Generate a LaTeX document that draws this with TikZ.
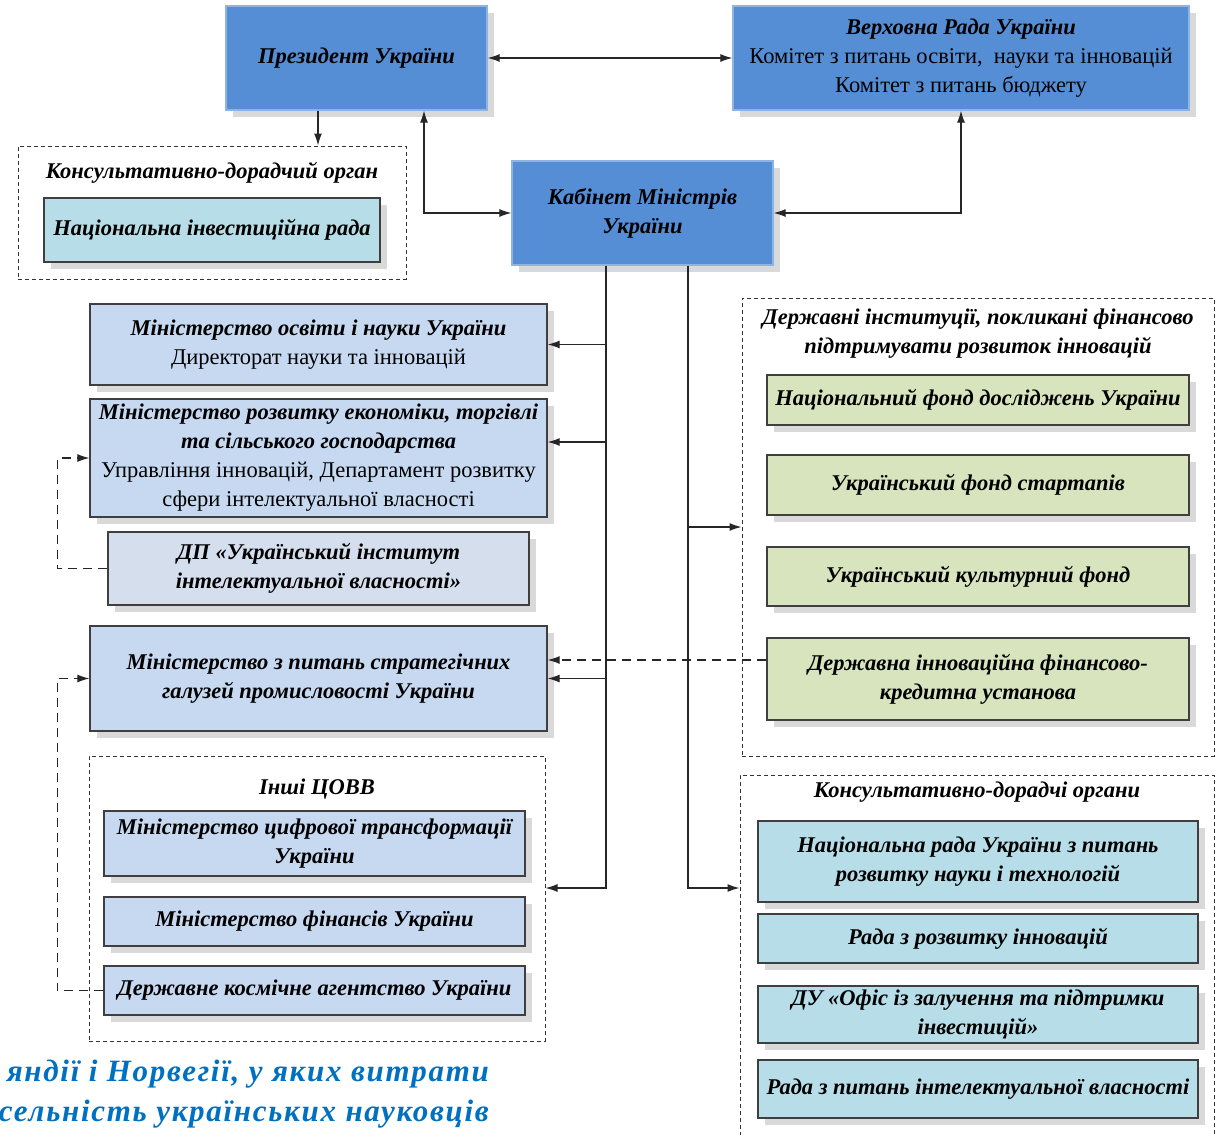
\documentclass[tikz,border=0pt]{standalone}
\usepackage{fontspec}
\setmainfont{Liberation Serif}
\newfontfamily\headfont[LetterSpace=5.5]{Liberation Serif}
\usetikzlibrary{arrows.meta,shadows,positioning}

\definecolor{topblue}{HTML}{558ED5}
\definecolor{topline}{HTML}{8EB4E3}
\definecolor{minblue}{HTML}{C6D9F1}
\definecolor{dpblue}{HTML}{D5DEEC}
\definecolor{cyanbox}{HTML}{B7DEE8}
\definecolor{greenbox}{HTML}{D7E4BD}
\definecolor{shade}{HTML}{D9D9D9}
\definecolor{linegray}{HTML}{3F3F3F}
\definecolor{headblue}{HTML}{0070C0}

\tikzset{
  box/.style={draw=linegray, line width=1.3pt, align=center, inner sep=2pt,
    font=\fontsize{22.5}{29}\selectfont\bfseries\itshape,
    drop shadow={shadow xshift=7pt, shadow yshift=-7pt, fill=shade, opacity=1}},
  topbox/.style={box, fill=topblue, draw=topline},
  minbox/.style={box, fill=minblue},
  dashframe/.style={draw=black!80, dash pattern=on 4pt off 3pt, line width=1pt},
  grouptitle/.style={font=\fontsize{22.5}{29}\selectfont\bfseries\itshape, align=center},
  link/.style={line width=1.2pt, draw=black!85},
  dlink/.style={link, dash pattern=on 9pt off 6pt},
}
\newcommand{\plain}{\mdseries\upshape}

\begin{document}
\begin{tikzpicture}[x=1pt, y=-1pt, >={Latex[length=12pt,width=8pt]}]
\useasboundingbox (0,0) rectangle (1216,1135);

% top level
\node[topbox, minimum width=261pt, minimum height=104pt] (pres) at (356.5,58) {Президент України};
\node[topbox, minimum width=456pt, minimum height=104pt] (vr) at (961,58) {Верховна Рада України\\\plain Комітет з питань освіти,~ науки та інновацій\\\plain Комітет з питань бюджету};
\node[topbox, minimum width=261pt, minimum height=104pt] (kab) at (642.5,213) {Кабінет Міністрів\\України};

% advisory body of the President
\node[dashframe, minimum width=388pt, minimum height=133pt] (kdo) at (212,212.5) {};
\node[grouptitle] (kdot) at (212,173) {Консультативно-дорадчий орган};
\node[box, fill=cyanbox, minimum width=336pt, minimum height=64pt] (nir) at (212,230) {Національна інвестиційна рада};

% ministries
\node[minbox, minimum width=457pt, minimum height=81pt] (mon) at (318.5,344.5) {Міністерство освіти і науки України\\\plain Директорат науки та інновацій};
\node[minbox, minimum width=457pt, minimum height=118pt] (mre) at (318.5,458) {Міністерство розвитку економіки, торгівлі\\та сільського господарства\\\plain Управління інновацій, Департамент розвитку\\\plain сфери інтелектуальної власності};
\node[box, fill=dpblue, minimum width=421pt, minimum height=73pt] (dpi) at (318.5,568.5) {ДП «Український інститут\\інтелектуальної власності»};
\node[minbox, minimum width=457pt, minimum height=105pt] (mst) at (318.5,678.5) {Міністерство з питань стратегічних\\галузей промисловості України};

% other central executive bodies
\node[dashframe, minimum width=456pt, minimum height=285pt] (cov) at (317,898.5) {};
\node[grouptitle] (covt) at (317,789) {Інші ЦОВВ};
\foreach \n/\y/\h/\t in {mct/843.5/65/{Міністерство цифрової трансформації\\України},
    mfu/921.5/49/{Міністерство фінансів України},
    dka/990.5/49/{Державне космічне агентство України}}
  \node[minbox, minimum width=421pt, minimum height=\h pt] (\n) at (314.5,\y) {\t};

% state institutions
\node[dashframe, minimum width=472pt, minimum height=458pt] (dis) at (978,527) {};
\node[grouptitle] (dist) at (978,333.5) {Державні інституції, покликані фінансово\\підтримувати розвиток інновацій};
\foreach \n/\y/\h/\t in {nfd/400/50/{Національний фонд досліджень України},
    ufs/485/60/{Український фонд стартапів},
    ukf/576.5/59/{Український культурний фонд},
    dik/679/82/{Державна інноваційна фінансово-\\кредитна установа}}
  \node[box, fill=greenbox, minimum width=422pt, minimum height=\h pt] (\n) at (978,\y) {\t};

% advisory bodies
\node[dashframe, minimum width=474pt, minimum height=375pt] (kdr) at (977,962.5) {};
\node[grouptitle] (kdrt) at (977,792) {Консультативно-дорадчі органи};
\foreach \n/\y/\h/\t in {nru/861.5/81/{Національна рада України з питань\\розвитку науки і технологій},
    rri/938.5/49/{Рада з розвитку інновацій},
    duo/1014.5/57/{ДУ «Офіс із залучення та підтримки\\інвестицій»},
    rpi/1089/58/{Рада з питань інтелектуальної власності}}
  \node[box, fill=cyanbox, minimum width=440pt, minimum height=\h pt] (\n) at (978,\y) {\t};

% cut-off heading of the page
\node[font=\headfont\fontsize{31}{40}\selectfont\bfseries\itshape, text=headblue, align=right, anchor=east, inner sep=0pt] (head) at (489,1094) {яндії і Норвегії, у яких витрати\\сельність українських науковців};

% links between the top bodies
\draw[link,<->] (pres) -- (vr);
\draw[link,->] ([xshift=-38.5pt]pres.south) -- ([xshift=-38.5pt]pres.south |- kdo.north);
\draw[link,<->] ([xshift=67.5pt]pres.south) |- (kab.west);
\draw[link,<->] (kab.east) -| (vr.south);

% two trunks down from the Cabinet
\coordinate (tl) at ([xshift=-36.5pt]kab.south);
\coordinate (tr) at ([xshift=45.5pt]kab.south);
\draw[link,->] (tl) |- ([yshift=10.5pt]cov.east);
\draw[link,->] (tl |- mon.east) -- (mon.east);
\draw[link,->] ([yshift=16pt]tl |- mre.east) -- ([yshift=16pt]mre.east);
\draw[link,->] (tl |- mst.east) -- (mst.east);
\draw[link,->] (tr) |- ([yshift=74.5pt]kdr.west);
\draw[link,->] (tr |- dis.west) -- (dis.west);

% dashed links
\draw[dlink,->] ([yshift=19pt]dik.west) -- ([yshift=19pt]dik.west -| mst.east);
\draw[dlink,->] (dpi.west) -- ++(-50pt,0) |- (mre.west);
\draw[dlink,->] (dka.west) -- ++(-46pt,0) |- (mst.west);
\end{tikzpicture}
\end{document}
